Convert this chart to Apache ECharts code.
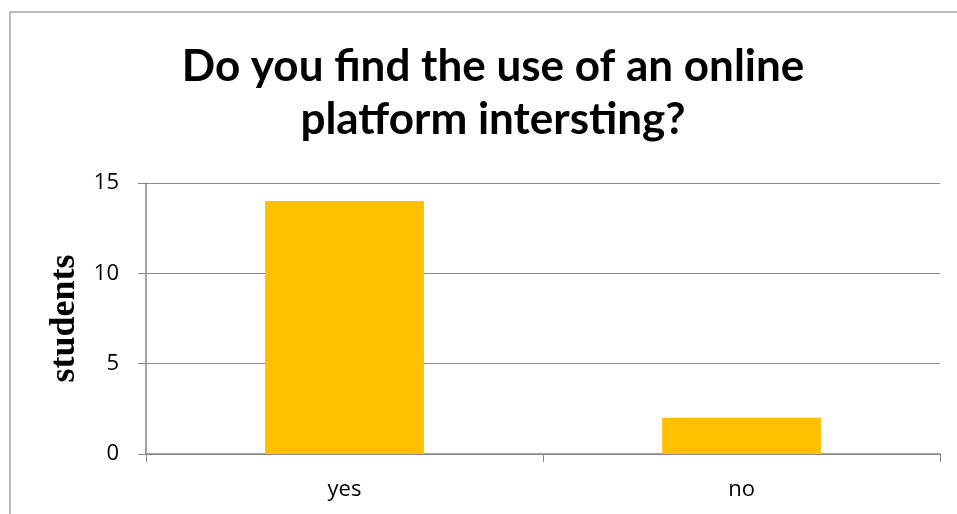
<!DOCTYPE html>
<html><head><meta charset="utf-8">
<script src="https://cdn.jsdelivr.net/npm/echarts@6/dist/echarts.min.js"></script>
<style>html,body{margin:0;padding:0;background:#fff}#c{width:957px;height:514px}</style>
</head><body><div id="c"></div>
<script>
const categories = ['yes', 'no'];
const students = [14, 2];
const yTicks = { min: 0, max: 15, interval: 5 };
const titleText = 'Do you find the use of an online\nplatform intersting?';

const chart = echarts.init(document.getElementById('c'), null, { renderer: 'canvas' });
chart.setOption({
  animation: false,
  backgroundColor: '#fff',
  title: {
    text: titleText,
    left: 488, top: 35, textAlign: 'center',
    textStyle: { fontFamily: 'Lato', fontWeight: 'bold', fontSize: 44, lineHeight: 53, color: '#000' }
  },
  graphic: [{
    type: 'rect', silent: true, z: -1,
    shape: { x: 10, y: 12, width: 1000, height: 600 },
    style: { fill: 'none', stroke: '#a6a6a6', lineWidth: 1.5 }
  }],
  grid: { left: 146, right: 17, top: 183, bottom: 60, containLabel: false },
  xAxis: {
    type: 'category', data: categories,
    axisLine: { lineStyle: { color: '#868686', width: 1.5 } },
    axisTick: { show: true, length: 8, lineStyle: { color: '#868686' } },
    axisLabel: { fontFamily: 'Open Sans', fontSize: 22, color: '#000', margin: 25 }
  },
  yAxis: {
    type: 'value', min: yTicks.min, max: yTicks.max, interval: yTicks.interval,
    name: 'students', nameLocation: 'middle', nameGap: 58, nameRotate: 90,
    nameTextStyle: { fontFamily: 'Liberation Serif', fontWeight: 'bold', fontSize: 36, color: '#000' },
    axisLine: { show: true, lineStyle: { color: '#868686', width: 1.5 } },
    axisTick: { show: true, length: 8, lineStyle: { color: '#868686' } },
    splitLine: { lineStyle: { color: '#8c8c8c', width: 1 } },
    axisLabel: { fontFamily: 'Open Sans', fontSize: 22, color: '#000', margin: 27 }
  },
  series: [{
    type: 'bar', data: students, barWidth: '40%',
    itemStyle: { color: '#FFC000' }
  }]
});
</script></body></html>
